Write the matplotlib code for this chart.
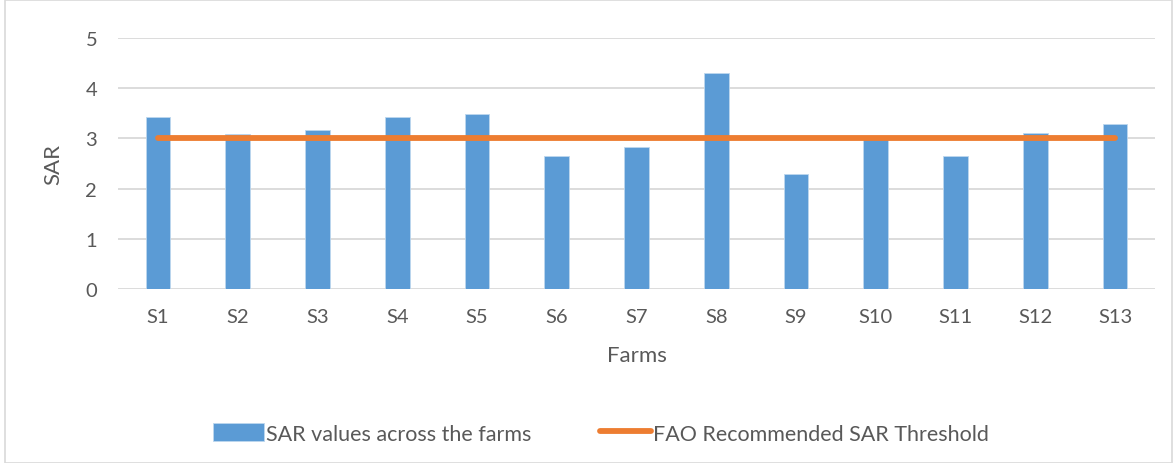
import matplotlib
matplotlib.use("Agg")
import matplotlib.pyplot as plt
from matplotlib.patches import Rectangle

farms = ["S1", "S2", "S3", "S4", "S5", "S6", "S7", "S8", "S9", "S10", "S11", "S12", "S13"]
sar_values = [3.43, 3.09, 3.17, 3.43, 3.49, 2.65, 2.83, 4.31, 2.29, 3.00, 2.65, 3.11, 3.28]
fao_threshold = [3.0] * len(farms)

plt.rcParams["font.family"] = ["Lato", "DejaVu Sans"]
text_col = "#595959"

fig = plt.figure(figsize=(11.73, 4.64), dpi=100)
ax = fig.add_axes([118 / 1173, 1 - 290 / 464, (1155 - 118) / 1173, (290 - 39) / 464])

x = list(range(len(farms)))
bars = ax.bar(x, sar_values, width=0.31, color="#5b9bd5", edgecolor="#bdd7ee", linewidth=0.6,
              label="SAR values across the farms", zorder=2)
line, = ax.plot(x, fao_threshold, color="#ed7d31", linewidth=4.2, solid_capstyle="round",
                label="FAO Recommended SAR Threshold", zorder=3)

ax.set_xlim(-0.5, len(farms) - 0.5)
ax.set_ylim(0, 5)
ax.set_yticks(range(0, 6))
ax.set_xticks(x)
ax.set_xticklabels(farms)
ax.grid(axis="y", color="#d9d9d9", linewidth=1.3, zorder=0)
ax.set_axisbelow(True)
for s in ax.spines.values():
    s.set_visible(False)
ax.tick_params(length=0, labelsize=14.5, colors=text_col)
ax.tick_params(axis="x", pad=14)
ax.tick_params(axis="y", pad=15)

ax.set_xlabel("Farms", fontsize=16, color=text_col, labelpad=14)
ax.set_ylabel("SAR", fontsize=16, color=text_col, labelpad=16)

fig.legend([bars, line], [bars.get_label(), line.get_label()],
           loc="lower center", bbox_to_anchor=(0.512, 0.0), ncol=2, frameon=False,
           fontsize=15.5, labelcolor=text_col, handlelength=2.4, handleheight=0.9,
           handletextpad=0.05, columnspacing=3.2)

# light frame round the chart
fig.add_artist(Rectangle((0.004, 0.0), 0.995, 0.998, transform=fig.transFigure,
                         fill=False, edgecolor="#d9d9d9", linewidth=1.2))

fig.savefig("out.png", dpi=100)
